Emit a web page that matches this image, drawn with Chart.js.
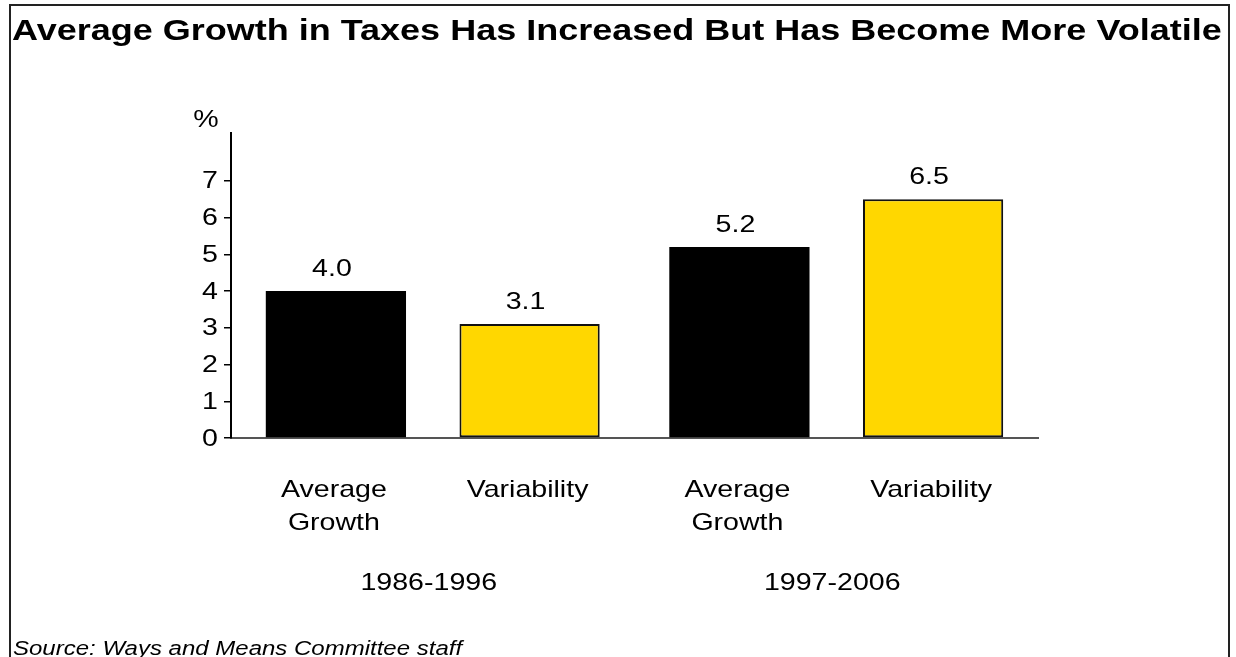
<!DOCTYPE html>
<html lang="en">
<head>
    <meta charset="UTF-8">
    <title>Tax Growth and Variability</title>
    <script src="https://cdn.jsdelivr.net/npm/chart.js@4.4.0/dist/chart.umd.min.js"></script>
    <style>
        html, body { margin: 0; padding: 0; background: #fff; }
        canvas { display: block; }
    </style>
</head>
<body>
    <canvas id="taxChart" width="1236" height="657"></canvas>

    <script>
        // data
        const periods = ['1986-1996', '1997-2006'];
        const measures = [['Average', 'Growth'], ['Variability']];
        const avgGrowth = [4.0, 5.2];
        const variability = [3.1, 6.5];
        const yTicks = [0, 1, 2, 3, 4, 5, 6, 7];

        const FONT = '"Liberation Sans", Arial, Helvetica, sans-serif';
        const WIDEN = 1.19;   // text in this figure is set slightly wide

        function wideText(ctx, text, x, y, sx) {
            ctx.save();
            ctx.translate(x, y);
            ctx.scale(sx || WIDEN, 1);
            ctx.fillText(text, 0, 0);
            ctx.restore();
        }

        // title, frame, axis labels, value labels and category text
        const decorations = {
            id: 'decorations',
            afterDraw(chart) {
                const ctx = chart.ctx;
                const area = chart.chartArea;
                const xScale = chart.scales.x;
                const yScale = chart.scales.y;
                ctx.save();

                // frame around the whole figure (bottom edge runs off the page)
                ctx.strokeStyle = '#222';
                ctx.lineWidth = 2;
                ctx.strokeRect(10, 5, 1219, 700);

                ctx.fillStyle = '#000';
                ctx.textAlign = 'left';
                ctx.textBaseline = 'alphabetic';
                ctx.font = 'bold 30px ' + FONT;
                wideText(ctx, 'Average Growth in Taxes Has Increased But Has Become More Volatile', 12, 40, 1.2);

                ctx.font = 'italic 20px ' + FONT;
                wideText(ctx, 'Source: Ways and Means Committee staff', 13, 655, 1.2);

                ctx.font = '24px ' + FONT;

                // y tick labels, right aligned against the tick marks
                ctx.textAlign = 'right';
                ctx.textBaseline = 'middle';
                yTicks.forEach(v => {
                    wideText(ctx, String(v), area.left - 13, yScale.getPixelForValue(v) + 1);
                });

                ctx.textAlign = 'center';
                ctx.textBaseline = 'alphabetic';
                wideText(ctx, '%', area.left - 25, 127);

                chart.data.datasets.forEach((ds, i) => {
                    const meta = chart.getDatasetMeta(i);
                    meta.data.forEach((bar, j) => {
                        wideText(ctx, ds.data[j].toFixed(1), bar.x - 4, bar.y - 15);
                        measures[i].forEach((line, k) => {
                            wideText(ctx, line, bar.x - 2, area.bottom + 59 + k * 33);
                        });
                    });
                });

                periods.forEach((p, j) => {
                    wideText(ctx, p, xScale.getPixelForValue(j) - 4, area.bottom + 152);
                });

                ctx.restore();
            }
        };

        const chart = new Chart(document.getElementById('taxChart'), {
            type: 'bar',
            data: {
                labels: periods,
                datasets: [
                    {
                        label: 'Average Growth',
                        data: avgGrowth,
                        backgroundColor: '#000000',
                        borderWidth: 0
                    },
                    {
                        label: 'Variability',
                        data: variability,
                        backgroundColor: '#FFD700',
                        borderColor: '#111111',
                        borderWidth: 2,
                        borderSkipped: false
                    }
                ]
            },
            options: {
                responsive: false,
                animation: false,
                devicePixelRatio: 1,
                layout: {
                    padding: { left: 0, right: 198, top: 133, bottom: 219 }
                },
                datasets: {
                    bar: {
                        categoryPercentage: 0.96,
                        barPercentage: 0.724
                    }
                },
                plugins: {
                    legend: { display: false },
                    tooltip: { enabled: false }
                },
                scales: {
                    x: {
                        grid: { display: false },
                        border: { color: '#555', width: 2 },
                        ticks: { display: false },
                        afterFit(scale) { scale.height = 0; }
                    },
                    y: {
                        min: 0,
                        max: 8.3,
                        afterBuildTicks(scale) {
                            scale.ticks = yTicks.map(v => ({ value: v }));
                        },
                        afterFit(scale) { scale.width = 231; },
                        grid: {
                            drawOnChartArea: false,
                            drawTicks: true,
                            tickLength: 7,
                            color: '#000',
                            lineWidth: 1.5
                        },
                        border: { color: '#000', width: 2 },
                        // labels are drawn by the decorations plugin
                        ticks: {
                            color: 'rgba(0,0,0,0)',
                            font: { family: FONT, size: 24 }
                        }
                    }
                }
            },
            plugins: [decorations]
        });
    </script>
</body>
</html>
